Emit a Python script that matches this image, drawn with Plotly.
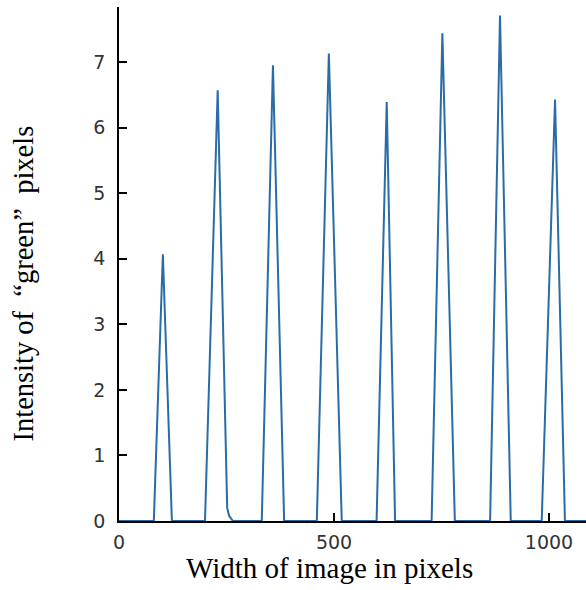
import plotly.graph_objects as go

# Intensity profile of the "green" pixels across the image width:
# each peak is described by its left foot, apex and right foot.
profile_x = [0, 81, 102, 123,
             200, 229.5, 251.6, 256, 265,
             332, 358, 384,
             460, 488, 518,
             599, 622.6, 642,
             727, 752, 781,
             863, 886, 911,
             983, 1014, 1037,
             1090]
profile_y = [0, 0, 4.07, 0,
             0, 6.57, 0.2, 0.08, 0,
             0, 6.95, 0,
             0, 7.13, 0,
             0, 6.39, 0,
             0, 7.44, 0,
             0, 7.71, 0,
             0, 6.43, 0,
             0]

x_ticks = [0, 500, 1000]
y_ticks = [0, 1, 2, 3, 4, 5, 6, 7]

x_title = "Width of image in pixels"
y_title = "Intensity of  “green”  pixels"

fig = go.Figure()
fig.add_trace(go.Scatter(
    x=profile_x, y=profile_y, mode="lines",
    line=dict(color="#2a6ca6", width=2),
    hoverinfo="skip", showlegend=False,
))

tick_font = dict(family="DejaVu Sans", size=19, color="#333333")
x_title_font = dict(family="Liberation Serif", size=29, color="#000000")
y_title_font = dict(family="Liberation Serif", size=28.5, color="#000000")

axis_common = dict(
    ticks="inside", ticklen=8, tickwidth=1.5, tickcolor="black",
    showline=True, linecolor="black", linewidth=1.5,
    showgrid=False, zeroline=False, tickfont=tick_font,
)

fig.update_layout(
    width=586, height=590,
    margin=dict(l=119, r=0, t=7, b=69),
    paper_bgcolor="white", plot_bgcolor="white",
    xaxis=dict(range=[0, 1086], tickvals=x_ticks,
               ticktext=[str(v) for v in x_ticks],
               ticklabelstandoff=3, **axis_common),
    yaxis=dict(range=[0, 7.84], tickvals=y_ticks,
               ticktext=[str(v) for v in y_ticks],
               ticklabelstandoff=8, **axis_common),
    annotations=[
        dict(text=x_title, xref="paper", yref="paper", x=0.4497, y=0,
             xanchor="center", yanchor="middle", yshift=-47,
             showarrow=False, font=x_title_font),
        dict(text=y_title, xref="paper", yref="paper", x=0, y=0.462,
             xanchor="center", yanchor="middle", xshift=-95, textangle=-90,
             showarrow=False, font=y_title_font),
    ],
)

fig.write_html("out.html")
